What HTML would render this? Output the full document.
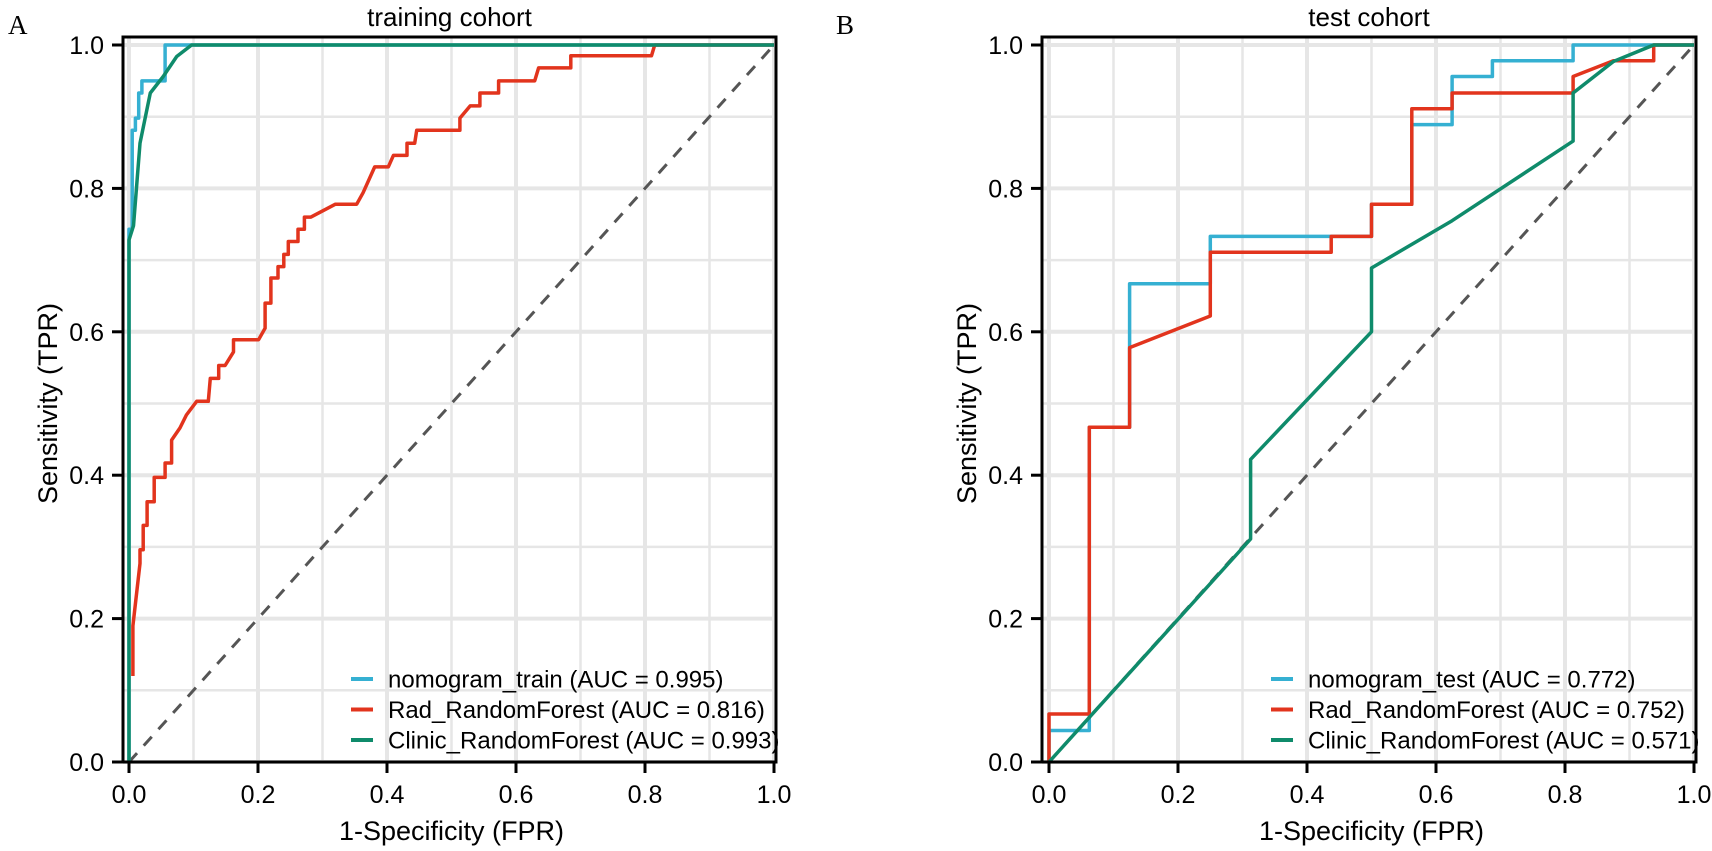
<!DOCTYPE html>
<html><head><meta charset="utf-8"><style>
html,body{margin:0;padding:0;background:#fff;}
svg{display:block;font-family:"Liberation Sans",Arial,sans-serif;}
</style></head><body>
<svg id="chart" width="1712" height="851" viewBox="0 0 1712 851" xmlns="http://www.w3.org/2000/svg"></svg>
<script>
// ---- data ----
const tickValues = [0, 0.2, 0.4, 0.6, 0.8, 1.0];
const tickLabels = ["0.0", "0.2", "0.4", "0.6", "0.8", "1.0"];
const panelTitles = ["training cohort", "test cohort"];
const panelLetters = ["A", "B"];
const seriesNames = ["nomogram", "Rad_RandomForest", "Clinic_RandomForest"];
const legendTrain = ["nomogram_train (AUC = 0.995)", "Rad_RandomForest (AUC = 0.816)", "Clinic_RandomForest (AUC = 0.993)"];
const legendTest = ["nomogram_test (AUC = 0.772)", "Rad_RandomForest (AUC = 0.752)", "Clinic_RandomForest (AUC = 0.571)"];

const trainNomoFPR = [0,0,0.005,0.005,0.01,0.01,0.015,0.015,0.02,0.02,0.056,0.056,1];
const trainNomoTPR = [0,0.743,0.743,0.881,0.881,0.898,0.898,0.933,0.933,0.95,0.95,1,1];
const trainRadFPR = [0.006,0.006,0.006,0.017,0.017,0.022,0.022,0.028,0.028,0.039,0.039,0.056,0.056,0.066,0.066,0.079,0.089,0.105,0.123,0.126,0.139,0.139,0.149,0.162,0.162,0.201,0.211,0.211,0.22,0.22,0.231,0.231,0.24,0.24,0.247,0.247,0.262,0.262,0.272,0.272,0.282,0.32,0.353,0.363,0.381,0.402,0.41,0.431,0.431,0.443,0.446,0.513,0.513,0.529,0.544,0.544,0.573,0.573,0.629,0.635,0.685,0.685,0.81,0.815,1];
const trainRadTPR = [0.12,0.19,0.19,0.277,0.296,0.296,0.33,0.33,0.363,0.363,0.397,0.397,0.417,0.417,0.449,0.466,0.484,0.503,0.503,0.535,0.535,0.553,0.553,0.572,0.589,0.589,0.605,0.64,0.64,0.675,0.675,0.691,0.691,0.708,0.708,0.726,0.726,0.743,0.743,0.76,0.76,0.778,0.778,0.794,0.83,0.83,0.846,0.846,0.863,0.863,0.881,0.881,0.898,0.915,0.915,0.933,0.933,0.95,0.95,0.968,0.968,0.985,0.985,1,1];
const trainClinFPR = [0,0,0.007,0.017,0.033,0.053,0.074,0.097,1];
const trainClinTPR = [0,0.728,0.748,0.863,0.933,0.956,0.984,1,1];

const testNomoFPR = [0,0,0.0625,0.0625,0.125,0.125,0.25,0.25,0.5,0.5,0.5625,0.5625,0.625,0.625,0.6875,0.6875,0.8125,0.8125,1];
const testNomoTPR = [0,0.044,0.044,0.467,0.467,0.667,0.667,0.733,0.733,0.778,0.778,0.889,0.889,0.956,0.956,0.978,0.978,1,1];
const testRadFPR = [0,0,0.0625,0.0625,0.125,0.125,0.25,0.25,0.4375,0.4375,0.5,0.5,0.5625,0.5625,0.625,0.625,0.8125,0.8125,0.875,0.9375,0.9375,1];
const testRadTPR = [0,0.067,0.067,0.467,0.467,0.578,0.622,0.711,0.711,0.733,0.733,0.778,0.778,0.911,0.911,0.933,0.933,0.956,0.978,0.978,1,1];
const testClinFPR = [0,0.3125,0.3125,0.5,0.5,0.625,0.8125,0.8125,0.875,0.9375,1];
const testClinTPR = [0,0.311,0.422,0.6,0.689,0.755,0.866,0.933,0.977,1,1];

// ---- drawing ----
const NS = "http://www.w3.org/2000/svg";
const svg = document.getElementById("chart");
const colors = ["#35b0d2", "#e2341d", "#0f8b6b"];
function mk(tag, attrs, parent){
  const e = document.createElementNS(NS, tag);
  for (const k in attrs) e.setAttribute(k, attrs[k]);
  (parent || svg).appendChild(e);
  return e;
}
const Y0 = 762, Y1 = 45;
function yScale(v){ return Y0 - v * (Y0 - Y1); }

function drawPanel(idx, x0px, axisX, rightX, series, legend){
  const xScale = v => x0px + v * 645;
  const g = mk("g", {});
  
  
  // grid
  for (let i = 0; i <= 10; i++){
    const v = i / 10, major = i % 2 === 0;
    const gx = mk("line", {x1: xScale(v), x2: xScale(v), y1: 37, y2: Y0, stroke: "#e6e6e6", "stroke-width": major ? 4 : 2.5}, g);
    
    
    const gy = mk("line", {x1: axisX, x2: rightX, y1: yScale(v), y2: yScale(v), stroke: "#e6e6e6", "stroke-width": major ? 4 : 2.5}, g);
    
    
  }
  // diagonal
  const d = mk("line", {x1: xScale(0), y1: yScale(0), x2: xScale(1), y2: yScale(1), stroke: "#555", "stroke-width": 3, "stroke-dasharray": "12 10"}, g);
  
  
  // curves
  series.forEach((s, k) => {
    const pts = s[0].map((fx, j) => xScale(fx).toFixed(1) + "," + yScale(s[1][j]).toFixed(1)).join(" ");
    const p = mk("polyline", {points: pts, fill: "none", stroke: colors[k], "stroke-width": 3.5, "stroke-linejoin": "round"}, g);
    
    
  });
  // frame
  const fr = mk("path", {d: `M${axisX},37 H${rightX} V${Y0} H${axisX} Z`, fill: "none", stroke: "#000", "stroke-width": 3}, g);
  
  
  // ticks
  tickValues.forEach((v, i) => {
    const ty = mk("line", {x1: axisX - 11, x2: axisX, y1: yScale(v), y2: yScale(v), stroke: "#000", "stroke-width": 3}, g);
    
    
    const tly = mk("text", {x: axisX - 19, y: yScale(v) + 9, "text-anchor": "end", "font-size": 25, fill: "#000"}, g);
    tly.textContent = tickLabels[i];
    
    
    const tx = mk("line", {x1: xScale(v), x2: xScale(v), y1: Y0, y2: Y0 + 11, stroke: "#000", "stroke-width": 3}, g);
    
    
    const tlx = mk("text", {x: xScale(v), y: 803, "text-anchor": "middle", "font-size": 25, fill: "#000"}, g);
    tlx.textContent = tickLabels[i];
    
    
  });
  // titles
  const cx = (axisX + rightX) / 2;
  const t = mk("text", {x: cx, y: 26, "text-anchor": "middle", "font-size": 26, fill: "#000"}, g);
  t.textContent = panelTitles[idx];
  
  
  const xt = mk("text", {x: xScale(0.5), y: 840, "text-anchor": "middle", "font-size": 27, fill: "#000"}, g);
  xt.textContent = "1-Specificity (FPR)";
  
  
  const ytx = axisX - 66, yty = (Y0 + Y1) / 2;
  const yt = mk("text", {x: ytx, y: yty, "text-anchor": "middle", "font-size": 27, fill: "#000", transform: `rotate(-90 ${ytx} ${yty})`}, g);
  yt.textContent = "Sensitivity (TPR)";
  
  
  const lt = mk("text", {x: idx === 0 ? 8 : 836, y: 34, "font-size": 27, fill: "#000", "font-family": "Liberation Serif, serif"}, g);
  lt.textContent = panelLetters[idx];
  
  
  // legend
  const lx = x0px + 259;
  legend.forEach((txt, k) => {
    const ly = 679 + k * 30.5;
    const ent = mk("g", {}, g);
    
    
    mk("line", {x1: lx - 37, x2: lx - 15, y1: ly, y2: ly, stroke: colors[k], "stroke-width": 4}, ent);
    const tt = mk("text", {x: lx, y: ly + 8.5, "font-size": 24, fill: "#000"}, ent);
    tt.textContent = txt;
  });
}

drawPanel(0, 129, 123, 776,
  [[trainNomoFPR, trainNomoTPR], [trainRadFPR, trainRadTPR], [trainClinFPR, trainClinTPR]], legendTrain);
drawPanel(1, 1049, 1042, 1696,
  [[testNomoFPR, testNomoTPR], [testRadFPR, testRadTPR], [testClinFPR, testClinTPR]], legendTest);
</script>
</body></html>
